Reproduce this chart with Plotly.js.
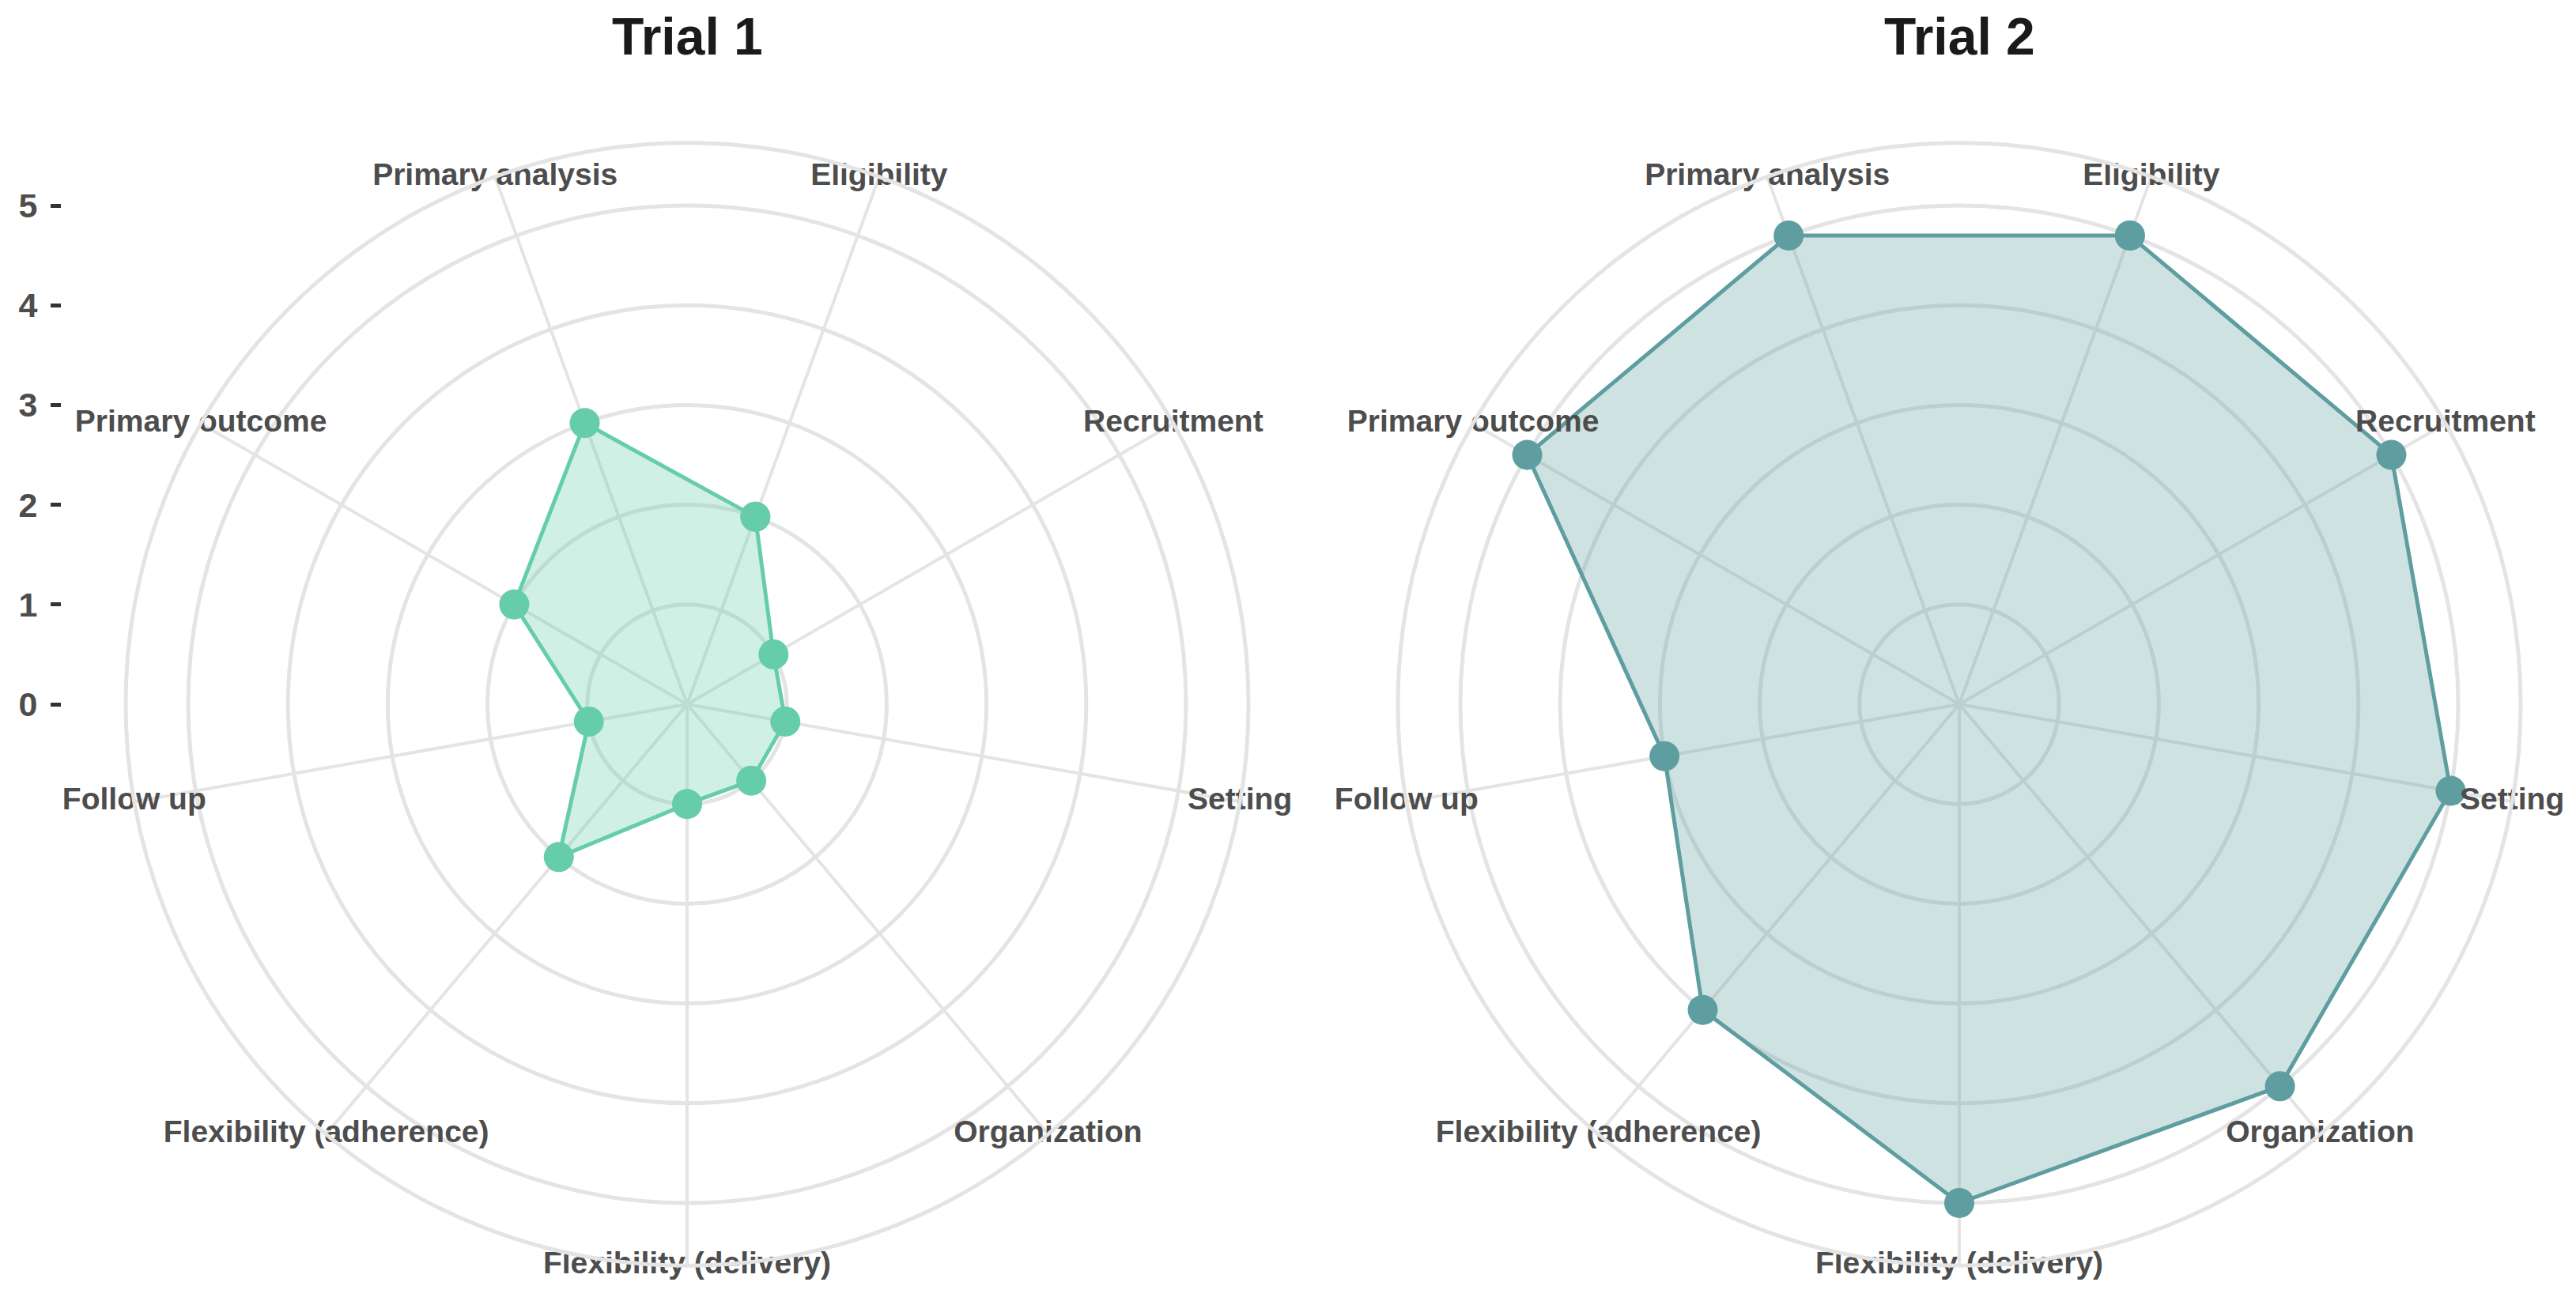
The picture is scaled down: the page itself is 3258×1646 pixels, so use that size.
<!DOCTYPE html>
<html>
<head>
<meta charset="utf-8">
<script src="https://cdn.plot.ly/plotly-3.0.1.min.js"></script>
<style>
  html, body { margin: 0; padding: 0; background: #ffffff; }
  #chart { width: 3258px; height: 1646px; }
</style>
</head>
<body>
<div id="chart"></div>
<script>
// ---- data ----
const categories = ['Eligibility', 'Recruitment', 'Setting', 'Organization',
  'Flexibility (delivery)', 'Flexibility (adherence)', 'Follow up',
  'Primary outcome', 'Primary analysis'];
const trial1Values = [2, 1, 1, 1, 1, 2, 1, 2, 3];
const trial2Values = [5, 5, 5, 5, 5, 4, 3, 5, 5];
const panelTitles = ['Trial 1', 'Trial 2'];
const radialTicks = [0, 1, 2, 3, 4, 5];
const radialTickText = ['0', '1', '2', '3', '4', '5'];

// ---- styling / layout constants ----
const W = 3258, H = 1646;
const FONT = 'Liberation Sans, Arial, Helvetica, sans-serif';
const GRID = '#e4e4e4';
const outerR = 5.626;          // radial range max (outer ring)
const labelR = outerR;         // category labels sit on outer ring
const colors = ['#66CDAA', '#5F9EA0'];
const fills = ['rgba(102,205,170,0.3)', 'rgba(95,158,160,0.3)'];
const R = 710;                 // px radius of outer ring
const centers = [[869, 891], [2478, 891]];

function domainFor(c) {
  return {
    x: [(c[0] - R) / W, (c[0] + R) / W],
    y: [(H - (c[1] + R)) / H, (H - (c[1] - R)) / H]
  };
}

function closed(arr) { return arr.concat([arr[0]]); }

const seriesList = [trial1Values, trial2Values];
const traces = [];
seriesList.forEach((vals, i) => {
  const sub = i === 0 ? 'polar' : 'polar2';
  traces.push({
    type: 'scatterpolar',
    subplot: sub,
    r: closed(vals),
    theta: closed(categories),
    mode: 'lines+markers',
    fill: 'toself',
    fillcolor: fills[i],
    line: { color: colors[i], width: 5 },
    marker: { color: colors[i], size: 38, line: { width: 0 } },
    hoverinfo: 'skip',
    showlegend: false,
    cliponaxis: false
  });
  traces.push({
    type: 'scatterpolar',
    subplot: sub,
    r: categories.map(() => labelR),
    theta: categories,
    mode: 'text',
    text: categories,
    textposition: 'middle center',
    textfont: { family: FONT, size: 39, color: '#4d4d4d', weight: 700 },
    hoverinfo: 'skip',
    showlegend: false,
    cliponaxis: false
  });
});

// helper (invisible) trace so the left value axis is drawn
traces.push({
  type: 'scatter',
  x: radialTicks.map(() => 0.5),
  y: radialTicks,
  mode: 'markers',
  marker: { opacity: 0 },
  hoverinfo: 'skip',
  showlegend: false,
  xaxis: 'x', yaxis: 'y'
});

function polarCfg(c) {
  return {
    domain: domainFor(c),
    bgcolor: '#ffffff',
    radialaxis: {
      range: [0, outerR],
      tickvals: radialTicks.slice(1),
      showticklabels: false,
      ticks: '',
      showline: false,
      gridcolor: GRID,
      gridwidth: 5
    },
    angularaxis: {
      type: 'category',
      categoryarray: categories,
      direction: 'clockwise',
      rotation: 70,
      showticklabels: false,
      ticks: '',
      gridcolor: GRID,
      gridwidth: 4,
      showline: true,
      linecolor: GRID,
      linewidth: 5
    }
  };
}

const d1 = domainFor(centers[0]);
const layout = {
  width: W, height: H,
  margin: { l: 0, r: 0, t: 0, b: 0, pad: 0 },
  paper_bgcolor: '#ffffff',
  plot_bgcolor: 'rgba(0,0,0,0)',
  showlegend: false,
  polar: polarCfg(centers[0]),
  polar2: polarCfg(centers[1]),
  xaxis: { domain: [78 / W, 90 / W], range: [0, 1], visible: false, fixedrange: true },
  yaxis: {
    anchor: 'x',
    side: 'left',
    domain: d1.y,
    range: [-outerR, outerR],
    tickvals: radialTicks,
    ticktext: radialTickText,
    ticks: 'outside',
    ticklen: 13,
    tickwidth: 5,
    tickcolor: '#333333',
    ticklabelstandoff: 8,
    showgrid: false,
    zeroline: false,
    showline: false,
    fixedrange: true,
    tickfont: { family: FONT, size: 43, color: '#4d4d4d', weight: 700 }
  },
  annotations: panelTitles.map((t, i) => ({
    text: t,
    xref: 'paper', yref: 'paper',
    x: centers[i][0] / W,
    y: (H - 46) / H,
    xanchor: 'center', yanchor: 'middle',
    showarrow: false,
    font: { family: FONT, size: 66, color: '#1a1a1a', weight: 700 }
  }))
};

Plotly.newPlot('chart', traces, layout, { staticPlot: true, displayModeBar: false });
</script>
</body>
</html>
